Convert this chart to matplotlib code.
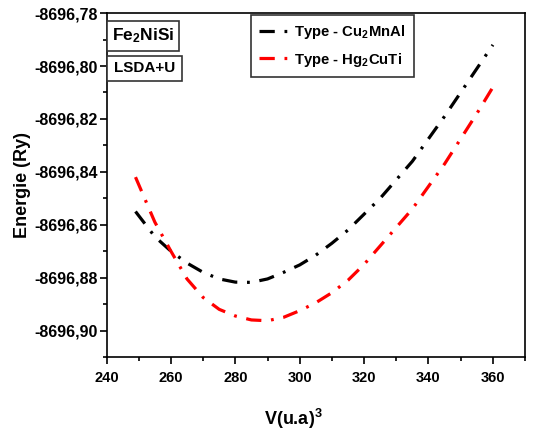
import numpy as np
import matplotlib
matplotlib.use('Agg')
import matplotlib.pyplot as plt
from matplotlib.patches import Rectangle
from matplotlib.ticker import MultipleLocator, FuncFormatter

# volume (u.a)^3 and total energy (Ry)
volume = [249, 255, 260, 265, 270, 275, 280, 285, 290, 295, 300, 305,
          310, 315, 320, 325, 330, 335, 340, 345, 350, 355, 360]
energy_cu2mnal = [-8696.855, -8696.8645, -8696.870, -8696.8745, -8696.878,
                  -8696.8805, -8696.8817, -8696.8818, -8696.8805, -8696.878,
                  -8696.8752, -8696.8715, -8696.867, -8696.862, -8696.856,
                  -8696.850, -8696.843, -8696.836, -8696.8275, -8696.819,
                  -8696.810, -8696.801, -8696.792]
energy_hg2cuti = [-8696.842, -8696.859, -8696.870, -8696.8805, -8696.8875,
                  -8696.892, -8696.8945, -8696.896, -8696.8963, -8696.895,
                  -8696.8925, -8696.8895, -8696.8857, -8696.881, -8696.875,
                  -8696.868, -8696.861, -8696.854, -8696.8455, -8696.837,
                  -8696.8275, -8696.818, -8696.808]
labels = ['Type - Cu$_2$MnAl', 'Type - Hg$_2$CuTi']

plt.rcParams['font.family'] = 'Liberation Sans'
plt.rcParams['font.weight'] = 'bold'
plt.rcParams['mathtext.fontset'] = 'custom'
plt.rcParams['mathtext.rm'] = 'Liberation Sans:bold'
plt.rcParams['mathtext.it'] = 'Liberation Sans:bold'
plt.rcParams['mathtext.bf'] = 'Liberation Sans:bold'
plt.rcParams['lines.scale_dashes'] = False

fig = plt.figure(figsize=(5.38, 4.38), dpi=100)
ax = fig.add_axes([0.198, 0.185, 0.778, 0.785])

dash = (11, 7, 2, 7)
ax.plot(volume, energy_cu2mnal, color='black', lw=2.3, dashes=dash, label=labels[0])
ax.plot(volume, energy_hg2cuti, color='red', lw=2.3, dashes=dash, label=labels[1])

ax.set_xlim(240, 370)
ax.set_ylim(-8696.91, -8696.78)
ax.xaxis.set_major_locator(MultipleLocator(20))
ax.xaxis.set_minor_locator(MultipleLocator(10))
ax.yaxis.set_major_locator(MultipleLocator(0.02))
ax.yaxis.set_minor_locator(MultipleLocator(0.01))
ax.yaxis.set_major_formatter(FuncFormatter(lambda v, p: ('%.2f' % v).replace('.', ',')))

ax.tick_params(which='major', direction='out', length=5, width=1.2)
ax.tick_params(which='minor', direction='out', length=3, width=1.2)
ax.tick_params(axis='y', which='major', labelsize=11.5, pad=1)
ax.tick_params(axis='x', which='major', labelsize=10.5, pad=5)
for s in ax.spines.values():
    s.set_linewidth(1.2)

ax.set_ylabel('Energie (Ry)', fontsize=13, fontweight='bold', labelpad=3)
fig.text(0.545, 0.03, 'V(u.a)$^3$', fontsize=13, fontweight='bold',
         ha='center', va='baseline')

# label boxes (figure fraction)
fig.add_artist(Rectangle((0.1989, 0.8836), 0.1338, 0.0676, transform=fig.transFigure,
                         fc='white', ec='#333333', lw=1.2, zorder=5))
fig.text(0.2658, 0.9175, 'Fe$_2$NiSi', fontsize=12.5, ha='center', va='center', zorder=6)
fig.add_artist(Rectangle((0.1989, 0.8157), 0.1394, 0.0565, transform=fig.transFigure,
                         fc='white', ec='#333333', lw=1.2, zorder=5))
fig.text(0.2695, 0.8440, 'LSDA+U', fontsize=11, ha='center', va='center', zorder=6)

leg = ax.legend(loc='upper left', bbox_to_anchor=(0.345, 0.995), borderaxespad=0,
                fontsize=10.7, handlelength=1.85, handletextpad=0.5, frameon=True,
                fancybox=False, edgecolor='#333333', framealpha=1, borderpad=0.55,
                labelspacing=0.65)
leg.get_frame().set_linewidth(1.2)

fig.savefig('out.png', dpi=100)
